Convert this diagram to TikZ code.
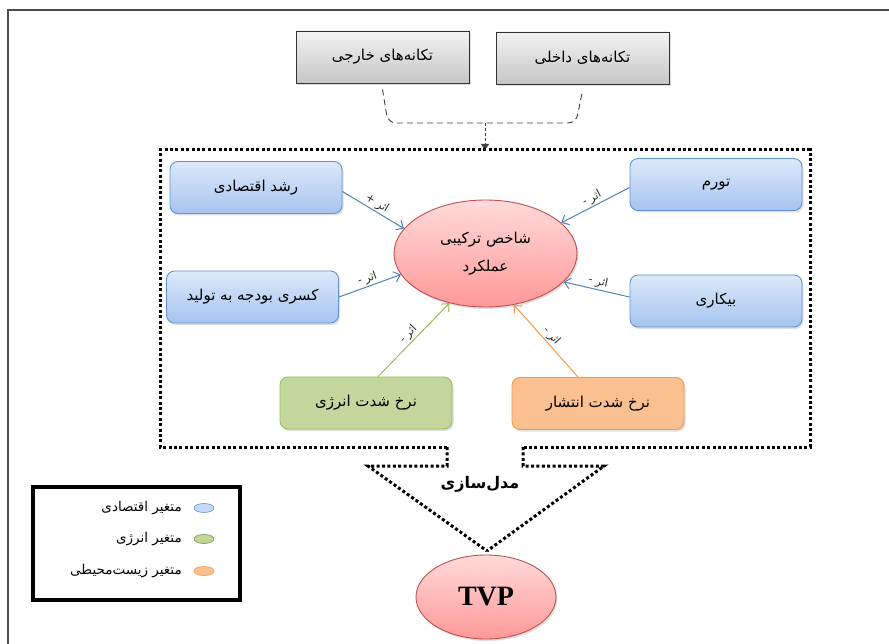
\documentclass[tikz,border=0pt]{standalone}
\usepackage{fontspec}
\TeXXeTstate=1
\newfontfamily\fa[Script=Arabic]{DejaVu Sans}
\newfontfamily\tms{Liberation Serif}
\usetikzlibrary{arrows.meta,shadows,shapes.geometric}
\newcommand\FA[1]{{\fa\beginR #1\endR}}
\definecolor{bluetop}{RGB}{220,233,249}
\definecolor{bluebot}{RGB}{166,196,240}
\definecolor{blueedge}{RGB}{98,146,210}
\definecolor{bluearr}{RGB}{79,129,189}
\definecolor{greenfill}{RGB}{195,214,155}
\definecolor{greenedge}{RGB}{155,187,89}
\definecolor{orfill}{RGB}{250,192,144}
\definecolor{oredge}{RGB}{247,150,70}
\definecolor{pinktop}{RGB}{255,218,218}
\definecolor{pinkbot}{RGB}{255,152,152}
\definecolor{pinkedge}{RGB}{192,80,77}
\definecolor{graytop}{RGB}{243,243,243}
\definecolor{graybot}{RGB}{198,198,198}
\begin{document}
\begin{tikzpicture}[x=1pt,y=-1pt,
  boxtxt/.style={font=\fontsize{15}{18}\selectfont},
  shad/.style={drop shadow={opacity=0.25,shadow xshift=1.5pt,shadow yshift=-2pt}},
  varbox/.style={boxtxt,rounded corners=8pt,minimum width=172pt,minimum height=52pt,line width=0.9pt,shad},
  bluebox/.style={varbox,draw=blueedge,top color=bluetop,bottom color=bluebot},
  greenbox/.style={varbox,draw=greenedge,fill=greenfill},
  orbox/.style={varbox,draw=oredge,fill=orfill},
  graybox/.style={boxtxt,draw=black!80,line width=0.9pt,top color=graytop,bottom color=graybot,minimum width=173pt,minimum height=52pt,shad},
  pinkell/.style={ellipse,draw=pinkedge,line width=0.9pt,top color=pinktop,bottom color=pinkbot,shad},
  arr/.style={line width=1pt,-{Straight Barb[length=6pt,width=11pt]}},
  efflab/.style={midway,sloped,above,inner sep=1.5pt,text=black!85,font=\fontsize{11}{12}\selectfont},
  dotframe/.style={line width=3pt,dash pattern=on 3pt off 2.4pt},
  dashcon/.style={draw=black!75,line width=0.9pt,dash pattern=on 6pt off 4pt},
  legell/.style={ellipse,draw,line width=0.6pt,minimum width=20pt,minimum height=9pt,inner sep=0pt},
  legtxt/.style={anchor=east,inner sep=0pt,font=\fontsize{13.5}{15}\selectfont}
]
\useasboundingbox (0,0) rectangle (889,644);
% outer frame lines
\draw[black!70,line width=1.6pt] (8,644) -- (8,10) -- (889,10);

% external shocks
\node[graybox] (ext) at (382.5,57) {\FA{تکانه‌های خارجی}};
\node[graybox] (int) at (582.5,58) {\FA{تکانه‌های داخلی}};
\coordinate (join) at (485,123);
\coordinate (ftop) at (485,150);
\draw[dashcon,rounded corners=8pt] ([yshift=-6pt]ext.south) -- (388,123) -- (576,123) -- ([yshift=-6pt]int.south);
\draw[draw=black!75,line width=0.9pt,dash pattern=on 3pt off 2pt,-{Triangle[length=6pt,width=8pt]}] (join) -- (ftop);

% dotted frame
\coordinate (tvptip) at (487,551);
\draw[dotframe] (447,447) -- (160,447) -- (160,150) -- (810,150) -- (810,447) -- (523,447);
\draw[dotframe] (447,447) -- (447,466) -- (368,466) -- (tvptip);
\draw[dotframe] (523,447) -- (523,466) -- (604,466) -- (tvptip);

% central ellipse
\node[pinkell,minimum width=183pt,minimum height=107pt,align=center,boxtxt] (perf) at (485.5,253.5)
  {\FA{شاخص ترکیبی}\\[10pt]\FA{عملکرد}};

% variable boxes
\node[bluebox] (gdp) at (256,187.5) {\FA{رشد اقتصادی}};
\node[bluebox] (bud) at (252.5,297) {\FA{کسری بودجه به تولید}};
\node[bluebox] (inf) at (716,184.5) {\FA{تورم}};
\node[bluebox] (une) at (716,301) {\FA{بیکاری}};
\node[greenbox] (ene) at (366,403) {\FA{نرخ شدت انرژی}};
\node[orbox] (emi) at (598,403.5) {\FA{نرخ شدت انتشار}};

% effects
\draw[arr,bluearr] ([yshift=-4pt]gdp.east) -- (perf.163) node[efflab] {\FA{اثر~+}};
\draw[arr,bluearr] (bud.east) -- (perf.194) node[efflab] {\FA{اثر~-}};
\draw[arr,bluearr] ([yshift=-3pt]inf.west) -- (perf.22) node[efflab] {\FA{اثر~-}};
\draw[arr,bluearr] ([yshift=4pt]une.west) -- (perf.340) node[efflab] {\FA{اثر~-}};
\draw[arr,greenedge] ([xshift=12pt]ene.north) -- (perf.234) node[efflab] {\FA{اثر~-}};
\draw[arr,oredge] ([xshift=-20pt]emi.north) -- (perf.299) node[efflab] {\FA{اثر~-}};

% modelling
\node[font=\fontsize{16}{18}\selectfont\bfseries] (mdl) at (480,484) {\FA{مدل‌سازی}};
\node[pinkell,minimum width=140pt,minimum height=84pt,font=\tms\bfseries\fontsize{28}{30}\selectfont] (tvp) at (486,597) {TVP};

% legend
\node[draw=black,line width=4pt,minimum width=207pt,minimum height=113pt,inner sep=0pt] (leg) at (136.5,543.5) {};
\node[legell,fill=bluetop!60!bluebot,draw=blueedge] (l1) at (204,508) {};
\node[legell,fill=greenfill,draw=greenedge!80!black] (l2) at (204,539) {};
\node[legell,fill=orfill,draw=oredge] (l3) at (204,571) {};
\node[legtxt] (t1) at (182,508) {\FA{متغیر اقتصادی}};
\node[legtxt] (t2) at (182,539) {\FA{متغیر انرژی}};
\node[legtxt] (t3) at (182,571) {\FA{متغیر زیست‌محیطی}};
\end{tikzpicture}
\end{document}
